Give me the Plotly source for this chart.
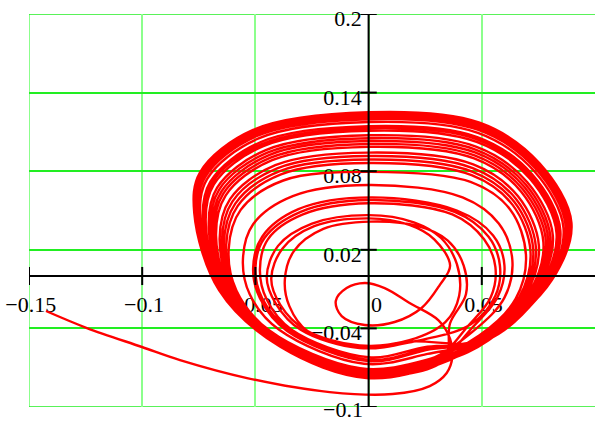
import plotly.graph_objects as go

# ---- axis ticks / labels ----
x_ticks = [-0.15, -0.1, -0.05, 0.0, 0.05, 0.1]
x_tick_labels = ["\u22120.15", "\u22120.1", "\u22120.05", "0", "0.05", ""]
y_ticks = [-0.1, -0.04, 0.02, 0.08, 0.14, 0.2]
y_tick_labels = ["\u22120.1", "\u22120.04", "0.02", "0.08", "0.14", "0.2"]

# ---- trajectory pieces (x, y) ----
tail_x = [-0.1425, -0.1244, -0.1001, -0.0833, -0.0537, -0.0172, 0.0106, 0.027, 0.0345, 0.037, 0.036, 0.031]
tail_y = [-0.0267, -0.0397, -0.0542, -0.0642, -0.0779, -0.0886, -0.0901, -0.084, -0.074, -0.062, -0.048, -0.034]

tear_x = [0.0181, 0.0071, -0.0017, -0.0097, -0.0145, -0.0119, -0.0017, 0.0115, 0.0234, 0.0314]
tear_y = [-0.0206, -0.0092, -0.0053, -0.0092, -0.0191, -0.0306, -0.0374, -0.0351, -0.0244, -0.0069]

i1_x = [0.036, 0.029, 0.018, 0.000, -0.024, -0.038, -0.043, -0.039, -0.028, -0.004, 0.018]
i1_y = [0.008, 0.028, 0.039, 0.044, 0.038, 0.021, -0.002, -0.022, -0.041, -0.053, -0.049]

i2_x = [0.034, 0.040, 0.039, 0.032, 0.020, 0.000, -0.025, -0.040, -0.045, -0.041, -0.030, -0.004, 0.020]
i2_y = [-0.035, -0.015, 0.009, 0.029, 0.041, 0.0465, 0.040, 0.023, -0.001, -0.021, -0.041, -0.055, -0.050]

m1_x = [0.045, 0.056, 0.058, 0.053, 0.038, 0.000, -0.030, -0.046, -0.050, -0.047, -0.035, 0.000, 0.027]
m1_y = [-0.037, -0.015, 0.008, 0.030, 0.049, 0.058, 0.049, 0.029, 0.006, -0.017, -0.041, -0.064, -0.055]

b50_x = [0.051, 0.0728, 0.0793, 0.0688, 0.047, 0.000, -0.044, -0.065, -0.069, -0.062, -0.0415, -0.002, 0.0305]
b50_y = [-0.047, -0.0105, 0.0283, 0.068, 0.0943, 0.103, 0.0923, 0.0645, 0.034, -0.011, -0.0475, -0.074, -0.064]

b83_x = [0.0523, 0.0782, 0.0861, 0.0732, 0.0483, 0.000, -0.0486, -0.0713, -0.0743, -0.0646, -0.0398, -0.0007, 0.0341]
b83_y = [-0.0483, -0.0055, 0.0363, 0.0799, 0.1093, 0.1175, 0.105, 0.0741, 0.0432, -0.0115, -0.0518, -0.0766, -0.0645]

b100_x = [0.053, 0.081, 0.0896, 0.0755, 0.049, 0.000, -0.051, -0.0745, -0.077, -0.066, -0.039, 0.000, 0.036]
b100_y = [-0.049, -0.003, 0.0405, 0.086, 0.117, 0.125, 0.1115, 0.079, 0.048, -0.011, -0.054, -0.078, -0.064]

b60_x = [0.0514, 0.0744, 0.0814, 0.0701, 0.0474, 0.000, -0.0454, -0.0669, -0.0706, -0.0628, -0.041, -0.0016, 0.0316]
b60_y = [-0.0474, -0.009, 0.0307, 0.0716, 0.0988, 0.1074, 0.0961, 0.0674, 0.0368, -0.0105, -0.0488, -0.0748, -0.0635]

m3_x = [0.046, 0.057, 0.060, 0.055, 0.039, 0.001, -0.031, -0.047, -0.051, -0.048, -0.036, 0.000, 0.027]
m3_y = [-0.039, -0.016, 0.008, 0.031, 0.050, 0.060, 0.051, 0.030, 0.006, -0.017, -0.042, -0.065, -0.056]

b88_x = [0.0525, 0.079, 0.0871, 0.0739, 0.0485, 0.0, -0.0493, -0.0722, -0.0751, -0.065, -0.0396, -0.0005, 0.0347]
b88_y = [-0.0485, -0.0048, 0.0376, 0.0817, 0.1115, 0.1197, 0.1069, 0.0755, 0.0446, -0.0109, -0.0524, -0.077, -0.0642]

b95_x = [0.0528, 0.0802, 0.0886, 0.0748, 0.0488, 0.001, -0.0503, -0.0735, -0.0762, -0.0656, -0.0392, -0.0002, 0.0355]
b95_y = [-0.0488, -0.0037, 0.0393, 0.0842, 0.1147, 0.1228, 0.1096, 0.0776, 0.0466, -0.0112, -0.0534, -0.0776, -0.0642]

b30_x = [0.0502, 0.0695, 0.0752, 0.066, 0.0462, 0.000, -0.0412, -0.0612, -0.0658, -0.0604, -0.0425, -0.0028, 0.0283]
b30_y = [-0.0462, -0.0135, 0.0234, 0.0608, 0.0852, 0.0942, 0.0846, 0.0587, 0.0284, -0.0108, -0.0449, -0.0724, -0.0638]

b72_x = [0.0519, 0.0764, 0.0838, 0.0717, 0.0479, 0.0, -0.0471, -0.0692, -0.0725, -0.0638, -0.0404, -0.0011, 0.0329]
b72_y = [-0.0479, -0.0072, 0.0336, 0.0759, 0.1043, 0.1127, 0.1007, 0.0709, 0.0402, -0.0113, -0.0504, -0.0758, -0.064]

b76_x = [0.052, 0.077, 0.0847, 0.0723, 0.048, 0.000, -0.0476, -0.0699, -0.0732, -0.0641, -0.0402, -0.001, 0.0334]
b76_y = [-0.048, -0.0066, 0.0346, 0.0774, 0.1061, 0.1144, 0.1023, 0.072, 0.0413, -0.0112, -0.0509, -0.0761, -0.0641]

i3_x = [0.036, 0.043, 0.042, 0.035, 0.022, 0.001, -0.020, -0.033, -0.037, -0.035, -0.027, -0.005, 0.019]
i3_y = [-0.036, -0.014, 0.008, 0.027, 0.038, 0.0415, 0.036, 0.019, -0.003, -0.023, -0.042, -0.054, -0.050]

b90_x = [0.0526, 0.0794, 0.0875, 0.0742, 0.0486, 0.000, -0.0496, -0.0726, -0.0754, -0.0652, -0.0395, -0.0004, 0.0349]
b90_y = [-0.0486, -0.0045, 0.0381, 0.0824, 0.112, 0.1206, 0.1077, 0.0761, 0.0452, -0.0108, -0.0527, -0.0772, -0.0643]

b55_x = [0.0512, 0.0736, 0.0803, 0.0694, 0.0472, 0.0, -0.0447, -0.066, -0.0698, -0.0624, -0.0412, -0.0018, 0.031]
b55_y = [-0.0472, -0.0097, 0.0295, 0.0698, 0.0965, 0.1052, 0.0942, 0.066, 0.0354, -0.0107, -0.0482, -0.0744, -0.0637]

b18_x = [0.0497, 0.0675, 0.0727, 0.0644, 0.0457, 0.000, -0.0395, -0.0589, -0.0639, -0.0594, -0.0431, -0.0033, 0.027]
b18_y = [-0.0457, -0.0153, 0.0204, 0.0565, 0.0797, 0.0889, 0.0799, 0.0552, 0.025, -0.011, -0.0433, -0.0714, -0.0637]

mb_x = [0.047, 0.060, 0.0635, 0.0575, 0.0415, 0.000, -0.0335, -0.051, -0.0555, -0.0525, -0.0395, -0.002, 0.026]
mb_y = [-0.041, -0.0165, 0.012, 0.040, 0.060, 0.0695, 0.061, 0.0395, 0.013, -0.014, -0.041, -0.067, -0.0595]

b68_x = [0.0517, 0.0757, 0.083, 0.0712, 0.0477, 0.000, -0.0465, -0.0684, -0.0719, -0.0634, -0.0406, -0.0013, 0.0325]
b68_y = [-0.0477, -0.0078, 0.0327, 0.0745, 0.1024, 0.1109, 0.0992, 0.0697, 0.039, -0.0114, -0.0498, -0.0754, -0.0639]

b24_x = [0.05, 0.0685, 0.0739, 0.0652, 0.046, 0.0, -0.0404, -0.0601, -0.0648, -0.0599, -0.0428, -0.003, 0.0276]
b24_y = [-0.046, -0.0144, 0.0219, 0.0586, 0.0824, 0.0916, 0.0822, 0.057, 0.0267, -0.011, -0.0441, -0.0719, -0.0638]

b97_x = [0.0529, 0.0806, 0.0891, 0.0752, 0.0489, 0.0005, -0.0507, -0.074, -0.0766, -0.0658, -0.0391, 0.0, 0.0357]
b97_y = [-0.0489, -0.0034, 0.0399, 0.0851, 0.1158, 0.1239, 0.1105, 0.0783, 0.0473, -0.0111, -0.0537, -0.0778, -0.0641]

b45_x = [0.0508, 0.0719, 0.0783, 0.0681, 0.0468, 0.0, -0.0433, -0.0641, -0.0682, -0.0616, -0.0417, -0.0022, 0.030]
b45_y = [-0.0468, -0.0112, 0.027, 0.0662, 0.092, 0.1008, 0.0903, 0.0631, 0.0326, -0.0109, -0.0469, -0.0736, -0.0636]

b40_x = [0.0506, 0.0711, 0.0772, 0.0674, 0.0466, 0.000, -0.0426, -0.0631, -0.0674, -0.0612, -0.042, -0.0024, 0.0294]
b40_y = [-0.0466, -0.012, 0.0258, 0.0644, 0.0897, 0.0986, 0.0884, 0.0616, 0.0312, -0.0106, -0.0462, -0.0732, -0.0636]

m2_x = [0.044, 0.054, 0.056, 0.051, 0.037, 0.000, -0.029, -0.0445, -0.048, -0.045, -0.034, 0.000, 0.026]
m2_y = [-0.038, -0.016, 0.007, 0.028, 0.047, 0.0555, 0.047, 0.028, 0.005, -0.018, -0.041, -0.062, -0.054]

b92_x = [0.0527, 0.0797, 0.088, 0.0744, 0.0487, 0.0, -0.0499, -0.073, -0.0757, -0.0654, -0.0394, -0.0003, 0.0351]
b92_y = [-0.0487, -0.0042, 0.0385, 0.0831, 0.1133, 0.1215, 0.1084, 0.0767, 0.0458, -0.0111, -0.053, -0.0774, -0.0642]

b12_x = [0.0495, 0.0665, 0.0715, 0.0636, 0.0455, 0.0, -0.0387, -0.0578, -0.0629, -0.059, -0.0434, -0.0035, 0.0263]
b12_y = [-0.0455, -0.0162, 0.0189, 0.0543, 0.077, 0.0863, 0.0776, 0.0535, 0.0234, -0.011, -0.0426, -0.0707, -0.0639]

b05_x = [0.049, 0.065, 0.0695, 0.0625, 0.045, 0.000, -0.0377, -0.0565, -0.0618, -0.0584, -0.0438, -0.0038, 0.0255, 0.050]
b05_y = [-0.0452, -0.0173, 0.0162, 0.0508, 0.0718, 0.0795, 0.0729, 0.0505, 0.0204, -0.011, -0.0416, -0.0704, -0.064, -0.046]

pieces = [
    (tail_x, tail_y), (tear_x, tear_y), (i1_x, i1_y), (i2_x, i2_y), (m1_x, m1_y),
    (b50_x, b50_y), (b83_x, b83_y), (b100_x, b100_y), (b60_x, b60_y), (m3_x, m3_y),
    (b88_x, b88_y), (b95_x, b95_y), (b30_x, b30_y), (b72_x, b72_y), (b76_x, b76_y),
    (i3_x, i3_y), (b90_x, b90_y), (b55_x, b55_y), (b18_x, b18_y), (mb_x, mb_y),
    (b68_x, b68_y), (b24_x, b24_y), (b97_x, b97_y), (b45_x, b45_y), (b40_x, b40_y),
    (m2_x, m2_y), (b92_x, b92_y), (b12_x, b12_y), (b05_x, b05_y),
]
curve_x, curve_y = [], []
for px, py in pieces:
    curve_x += px
    curve_y += py

# ---- styling constants ----
FONT = "Liberation Serif, Times New Roman, serif"
FS = 22
XLAB_Y = -0.023           # vertical centre of x tick labels
YLAB_X = -0.003           # right edge of y tick labels
YLAB_DY = -0.005          # y labels sit slightly below their tick
XTICK_H = 0.0069
YTICK_W = 0.0036
GRID_V = "#8cff8c"
GRID_H = "#22ee22"

fig = go.Figure()

# x tick labels (drawn under the curve)
xl_x = [t + 0.0008 for t in x_ticks[:5]]
xl_x[3] = 0.0035
fig.add_trace(go.Scatter(
    x=xl_x, y=[XLAB_Y] * 5, mode="text", text=x_tick_labels[:5],
    textposition="middle center", textfont=dict(family=FONT, size=FS, color="black"),
    hoverinfo="skip", cliponaxis=False, showlegend=False))

# y tick labels (the bottom one lies outside the range -> annotation below)
fig.add_trace(go.Scatter(
    x=[YLAB_X] * (len(y_ticks) - 1), y=[t + YLAB_DY for t in y_ticks[1:]], mode="text",
    text=y_tick_labels[1:], textposition="middle left",
    textfont=dict(family=FONT, size=FS, color="black"),
    hoverinfo="skip", cliponaxis=False, showlegend=False))

# the trajectory
fig.add_trace(go.Scatter(
    x=curve_x, y=curve_y, mode="lines",
    line=dict(color="#ff0000", width=2.4, shape="spline", smoothing=1.0),
    hoverinfo="skip", showlegend=False))

shapes = []
# boundary grid lines (plotly omits grid at the range edges)
shapes.append(dict(type="line", xref="x", yref="y", x0=-0.15, x1=-0.15, y0=-0.1, y1=0.2,
                   line=dict(color=GRID_V, width=2), layer="below"))
shapes.append(dict(type="line", xref="x", yref="y", x0=-0.15, x1=0.1, y0=0.2, y1=0.2,
                   line=dict(color=GRID_H, width=1.5), layer="below"))
shapes.append(dict(type="line", xref="x", yref="y", x0=-0.15, x1=0.1, y0=-0.1, y1=-0.1,
                   line=dict(color=GRID_H, width=1.5), layer="below"))
# axis lines through the origin
shapes.append(dict(type="line", xref="x", yref="y", x0=-0.15, x1=0.1, y0=0, y1=0,
                   line=dict(color="black", width=2), layer="above"))
shapes.append(dict(type="line", xref="x", yref="y", x0=0, x1=0, y0=-0.1, y1=0.2,
                   line=dict(color="black", width=2), layer="above"))
for t in x_ticks[:5]:
    if t != 0:
        shapes.append(dict(type="line", xref="x", yref="y", x0=t, x1=t,
                           y0=-XTICK_H, y1=XTICK_H,
                           line=dict(color="black", width=2), layer="above"))
for t in y_ticks:
    shapes.append(dict(type="line", xref="x", yref="y", x0=-YTICK_W, x1=YTICK_W,
                       y0=t, y1=t, line=dict(color="black", width=2), layer="above"))

annotations = [dict(
    x=YLAB_X, y=y_ticks[0], xref="x", yref="y", text=y_tick_labels[0],
    showarrow=False, xanchor="right", yanchor="middle", yshift=-2, xshift=3,
    font=dict(family=FONT, size=FS, color="black"))]

fig.update_layout(
    width=595, height=421, autosize=False,
    margin=dict(l=29, r=0, t=14, b=14),
    paper_bgcolor="white", plot_bgcolor="white",
    showlegend=False, shapes=shapes, annotations=annotations,
    xaxis=dict(range=[-0.15, 0.1], tickvals=x_ticks[:5], showticklabels=False, ticks="",
               showgrid=True, gridcolor=GRID_V, gridwidth=2,
               zeroline=False, showline=False, fixedrange=True),
    yaxis=dict(range=[-0.1, 0.2], tickvals=y_ticks, showticklabels=False, ticks="",
               showgrid=True, gridcolor=GRID_H, gridwidth=1.5,
               zeroline=False, showline=False, fixedrange=True),
)

# remove the page's default body margin so the figure sits at the window origin
fig.write_html(
    "out.html",
    config={"displayModeBar": False},
    post_script="document.body.style.margin='0px';document.body.style.overflow='hidden';",
)
